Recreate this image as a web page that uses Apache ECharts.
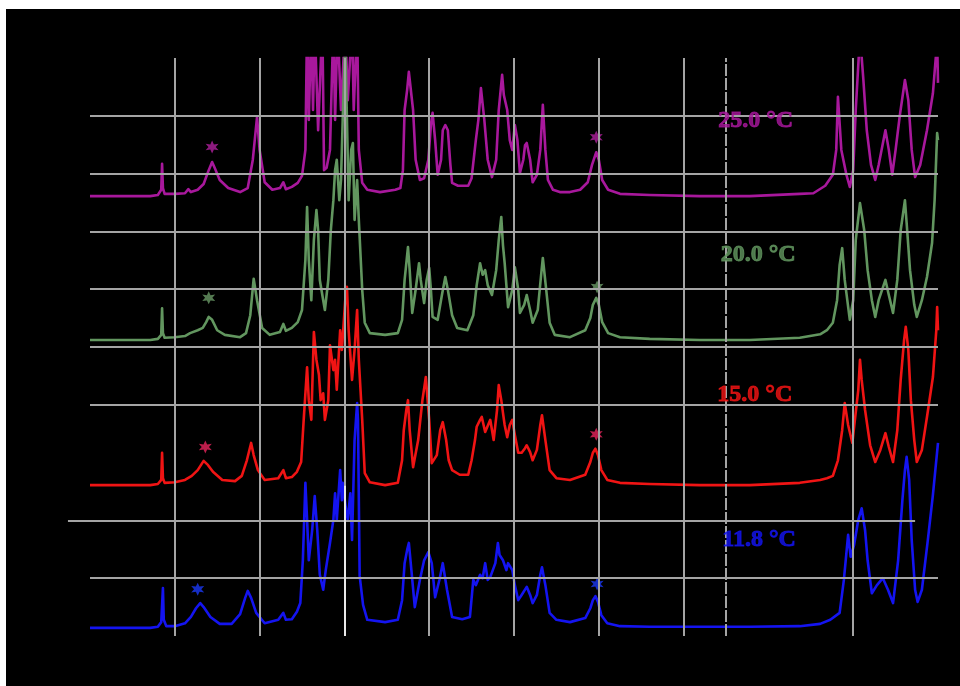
<!DOCTYPE html>
<html><head><meta charset="utf-8">
<script src="https://cdn.jsdelivr.net/npm/echarts@6/dist/echarts.min.js"></script>
<style>
html,body{margin:0;padding:0;background:#fff;width:960px;height:686px;overflow:hidden}
#c{position:absolute;left:6px;top:9px;width:954px;height:677px;background:#000}
</style></head><body><div id="c"></div>
<script>
// Spectra: [shift, intensity(offset stacked)] pairs
const spec25 = [[0,7.61],[0.35,7.61],[0.71,7.61],[0.80,7.63],[0.84,7.72],[0.85,8.17],[0.86,7.75],[0.88,7.65],[1.00,7.65],[1.12,7.66],[1.16,7.73],[1.19,7.68],[1.27,7.72],[1.34,7.82],[1.40,8.06],[1.44,8.20],[1.47,8.10],[1.53,7.89],[1.63,7.75],[1.77,7.68],[1.86,7.75],[1.92,8.24],[1.97,8.98],[2.00,8.41],[2.06,7.85],[2.15,7.72],[2.24,7.75],[2.28,7.85],[2.31,7.73],[2.38,7.77],[2.45,7.84],[2.50,7.96],[2.54,8.41],[2.56,10.6],[2.58,8.93],[2.61,10.6],[2.63,9.10],[2.65,10.6],[2.69,8.75],[2.74,10.6],[2.76,8.06],[2.79,8.10],[2.83,8.41],[2.87,10.6],[2.89,8.93],[2.92,10.6],[2.96,9.10],[3.01,10.6],[3.04,9.27],[3.09,10.6],[3.11,9.10],[3.15,10.6],[3.17,8.41],[3.21,7.84],[3.27,7.72],[3.42,7.68],[3.60,7.72],[3.66,7.75],[3.69,8.06],[3.71,9.10],[3.74,9.45],[3.76,9.76],[3.79,9.36],[3.81,9.10],[3.84,8.24],[3.89,7.89],[3.94,7.92],[3.99,8.24],[4.02,8.84],[4.04,9.05],[4.07,8.58],[4.10,7.98],[4.14,8.24],[4.16,8.75],[4.19,8.84],[4.22,8.75],[4.25,8.15],[4.27,7.84],[4.34,7.79],[4.46,7.79],[4.50,7.92],[4.55,8.58],[4.58,8.93],[4.61,9.48],[4.65,8.93],[4.69,8.24],[4.74,7.94],[4.79,8.24],[4.82,9.10],[4.86,9.71],[4.88,9.36],[4.92,9.10],[4.95,8.58],[4.98,8.41],[5.01,8.84],[5.04,8.58],[5.07,8.01],[5.11,8.24],[5.13,8.49],[5.15,8.53],[5.19,8.24],[5.22,7.85],[5.27,7.98],[5.31,8.41],[5.34,9.19],[5.37,8.41],[5.40,7.89],[5.46,7.72],[5.54,7.68],[5.66,7.68],[5.78,7.72],[5.87,7.85],[5.92,8.15],[5.97,8.37],[6.00,8.24],[6.04,7.89],[6.11,7.72],[6.25,7.65],[6.60,7.63],[7.19,7.61],[7.78,7.61],[8.37,7.65],[8.53,7.66],[8.67,7.79],[8.76,7.98],[8.80,8.41],[8.82,9.33],[8.86,8.41],[8.92,7.98],[8.96,7.77],[9.00,8.06],[9.03,9.10],[9.08,10.4],[9.12,9.62],[9.16,8.75],[9.21,8.15],[9.26,7.89],[9.30,8.15],[9.38,8.75],[9.42,8.41],[9.46,7.98],[9.50,8.41],[9.55,9.01],[9.61,9.62],[9.65,9.27],[9.69,8.41],[9.73,7.94],[9.79,8.15],[9.87,8.75],[9.94,9.39],[9.99,10.3],[10.0,9.57]];

const spec20 = [[0,5.12],[0.71,5.12],[0.80,5.14],[0.84,5.21],[0.85,5.67],[0.86,5.24],[0.88,5.16],[1.00,5.17],[1.12,5.19],[1.18,5.24],[1.27,5.29],[1.33,5.33],[1.37,5.43],[1.40,5.52],[1.44,5.47],[1.50,5.29],[1.59,5.21],[1.77,5.17],[1.84,5.24],[1.89,5.55],[1.93,6.18],[1.97,5.81],[2.03,5.33],[2.12,5.21],[2.24,5.26],[2.28,5.40],[2.31,5.28],[2.38,5.33],[2.45,5.43],[2.50,5.64],[2.54,6.51],[2.56,7.42],[2.58,6.51],[2.61,5.81],[2.64,6.85],[2.67,7.37],[2.69,7.02],[2.71,6.16],[2.75,5.81],[2.77,5.64],[2.81,6.16],[2.84,7.02],[2.87,7.54],[2.89,8.06],[2.91,8.24],[2.94,7.54],[2.96,7.89],[2.98,8.93],[3.01,10.3],[3.03,8.93],[3.05,7.54],[3.08,8.41],[3.10,8.53],[3.12,7.20],[3.15,7.89],[3.17,7.20],[3.21,5.99],[3.24,5.42],[3.30,5.24],[3.48,5.21],[3.63,5.24],[3.68,5.47],[3.71,6.16],[3.75,6.73],[3.77,6.33],[3.80,5.59],[3.84,5.99],[3.88,6.45],[3.90,6.16],[3.94,5.76],[3.97,6.16],[4.00,6.37],[4.02,5.99],[4.04,5.52],[4.10,5.47],[4.15,5.90],[4.19,6.21],[4.22,5.99],[4.27,5.55],[4.33,5.33],[4.45,5.29],[4.52,5.55],[4.56,6.07],[4.60,6.45],[4.63,6.25],[4.66,6.33],[4.69,6.07],[4.74,5.90],[4.79,6.33],[4.82,6.85],[4.85,7.25],[4.87,6.76],[4.89,6.45],[4.93,5.69],[4.98,5.99],[5.01,6.38],[5.05,5.99],[5.07,5.59],[5.12,5.73],[5.15,5.90],[5.19,5.64],[5.22,5.42],[5.28,5.64],[5.32,6.25],[5.34,6.54],[5.38,5.99],[5.42,5.42],[5.48,5.21],[5.66,5.17],[5.84,5.29],[5.90,5.50],[5.93,5.73],[5.97,5.85],[6.00,5.73],[6.04,5.43],[6.11,5.24],[6.25,5.17],[6.60,5.14],[7.19,5.12],[7.78,5.12],[8.37,5.16],[8.61,5.22],[8.69,5.29],[8.76,5.42],[8.81,5.81],[8.84,6.42],[8.87,6.71],[8.90,6.16],[8.96,5.47],[9.00,5.81],[9.03,6.85],[9.08,7.49],[9.13,7.02],[9.17,6.33],[9.22,5.81],[9.26,5.52],[9.30,5.81],[9.38,6.16],[9.42,5.90],[9.47,5.59],[9.52,6.16],[9.56,7.02],[9.61,7.54],[9.63,7.15],[9.67,6.33],[9.72,5.73],[9.75,5.52],[9.81,5.81],[9.87,6.21],[9.93,6.80],[9.96,7.54],[9.99,8.70],[10.0,8.58]];

const spec15 = [[0,2.61],[0.71,2.61],[0.80,2.63],[0.84,2.70],[0.85,3.17],[0.86,2.73],[0.88,2.65],[1.00,2.66],[1.12,2.70],[1.20,2.77],[1.27,2.87],[1.34,3.03],[1.39,2.96],[1.45,2.84],[1.56,2.70],[1.71,2.68],[1.79,2.77],[1.85,3.04],[1.90,3.34],[1.93,3.13],[1.98,2.87],[2.06,2.70],[2.22,2.73],[2.28,2.87],[2.31,2.73],[2.38,2.75],[2.44,2.84],[2.49,3.01],[2.52,3.74],[2.56,4.65],[2.58,4.08],[2.61,3.74],[2.64,5.26],[2.67,4.78],[2.70,4.52],[2.72,4.08],[2.75,4.20],[2.77,3.74],[2.81,4.08],[2.83,5.03],[2.87,4.60],[2.89,4.78],[2.91,4.26],[2.95,5.29],[2.97,4.95],[3.01,5.81],[3.03,6.04],[3.05,5.29],[3.09,4.43],[3.12,4.95],[3.15,5.64],[3.17,4.78],[3.21,3.74],[3.24,2.82],[3.30,2.66],[3.48,2.61],[3.63,2.65],[3.68,3.04],[3.70,3.56],[3.73,3.91],[3.75,4.08],[3.77,3.56],[3.81,2.92],[3.87,3.39],[3.92,4.08],[3.96,4.48],[4.00,3.74],[4.03,2.99],[4.09,3.13],[4.13,3.56],[4.16,3.70],[4.20,3.39],[4.23,3.04],[4.27,2.87],[4.36,2.79],[4.46,2.79],[4.50,3.04],[4.54,3.39],[4.56,3.62],[4.60,3.74],[4.62,3.79],[4.66,3.53],[4.68,3.56],[4.72,3.74],[4.76,3.39],[4.80,3.91],[4.82,4.34],[4.85,4.08],[4.87,3.86],[4.89,3.65],[4.92,3.44],[4.95,3.65],[4.98,3.74],[5.01,3.48],[5.05,3.17],[5.09,3.17],[5.13,3.25],[5.15,3.30],[5.19,3.18],[5.22,3.04],[5.27,3.22],[5.31,3.65],[5.33,3.82],[5.37,3.39],[5.42,2.87],[5.50,2.73],[5.66,2.70],[5.84,2.79],[5.90,3.01],[5.93,3.17],[5.96,3.24],[5.99,3.13],[6.03,2.87],[6.10,2.70],[6.25,2.65],[6.60,2.63],[7.19,2.61],[7.78,2.61],[8.37,2.65],[8.61,2.70],[8.69,2.73],[8.76,2.77],[8.82,3.04],[8.87,3.56],[8.90,4.03],[8.94,3.65],[8.99,3.34],[9.02,3.74],[9.06,4.26],[9.08,4.78],[9.10,4.43],[9.14,3.91],[9.20,3.30],[9.26,3.01],[9.32,3.22],[9.38,3.51],[9.42,3.27],[9.47,3.01],[9.52,3.56],[9.56,4.43],[9.60,5.12],[9.62,5.35],[9.65,4.95],[9.68,4.08],[9.72,3.39],[9.75,3.01],[9.81,3.22],[9.87,3.79],[9.94,4.48],[9.98,5.29],[9.99,5.69],[10.0,5.29]];

const spec118 = [[0,0.14],[0.71,0.14],[0.80,0.16],[0.84,0.24],[0.86,0.83],[0.87,0.28],[0.90,0.17],[1.00,0.17],[1.12,0.22],[1.19,0.33],[1.25,0.48],[1.30,0.57],[1.34,0.50],[1.42,0.33],[1.53,0.21],[1.67,0.21],[1.77,0.38],[1.83,0.66],[1.86,0.78],[1.90,0.66],[1.96,0.40],[2.06,0.22],[2.22,0.28],[2.28,0.40],[2.31,0.28],[2.38,0.29],[2.44,0.42],[2.48,0.57],[2.51,1.31],[2.54,2.65],[2.56,2.01],[2.58,1.31],[2.62,1.83],[2.65,2.42],[2.68,1.83],[2.71,1.06],[2.75,0.80],[2.78,1.14],[2.83,1.61],[2.87,2.01],[2.89,2.47],[2.91,2.01],[2.95,2.87],[2.97,2.35],[2.98,2.65],[3.02,2.18],[3.04,2.01],[3.07,2.47],[3.09,1.66],[3.12,3.39],[3.15,4.03],[3.16,3.74],[3.18,1.04],[3.22,0.54],[3.27,0.28],[3.48,0.24],[3.63,0.28],[3.68,0.62],[3.71,1.26],[3.74,1.49],[3.76,1.61],[3.79,1.14],[3.83,0.50],[3.89,0.97],[3.94,1.31],[3.99,1.45],[4.03,1.26],[4.07,0.67],[4.12,0.97],[4.16,1.26],[4.21,0.80],[4.27,0.33],[4.39,0.29],[4.48,0.33],[4.52,0.97],[4.55,0.88],[4.60,1.06],[4.63,1.00],[4.66,1.26],[4.69,0.97],[4.72,1.02],[4.75,1.14],[4.78,1.26],[4.81,1.61],[4.83,1.40],[4.87,1.31],[4.91,1.14],[4.93,1.26],[4.98,1.14],[5.01,0.88],[5.05,0.62],[5.09,0.71],[5.15,0.85],[5.19,0.71],[5.22,0.57],[5.27,0.71],[5.31,1.06],[5.33,1.19],[5.37,0.88],[5.42,0.40],[5.50,0.28],[5.66,0.24],[5.84,0.31],[5.90,0.48],[5.93,0.62],[5.96,0.69],[5.99,0.59],[6.03,0.36],[6.10,0.22],[6.25,0.17],[6.60,0.16],[7.19,0.16],[7.78,0.16],[8.37,0.17],[8.61,0.21],[8.73,0.28],[8.84,0.40],[8.89,0.97],[8.94,1.75],[8.97,1.37],[9.01,1.57],[9.06,2.01],[9.10,2.21],[9.14,1.83],[9.17,1.31],[9.22,0.74],[9.28,0.88],[9.35,1.00],[9.41,0.80],[9.47,0.57],[9.53,1.31],[9.58,2.35],[9.61,2.87],[9.63,3.10],[9.66,2.70],[9.69,1.66],[9.73,0.80],[9.76,0.59],[9.81,0.80],[9.88,1.66],[9.94,2.44],[10.0,3.34]];

const seriesNames = ['25.0 °C','20.0 °C','15.0 °C','11.8 °C'];
const seriesColors = ['#a8189c','#62965f','#f01414','#1414f0'];
const starColors = ['#b0209e','#6a9a66','#e8245c','#1a38f5'];
const starPoints = [
  [[1.44,8.46],[5.97,8.63]],
  [[1.40,5.85],[5.98,6.04]],
  [[1.36,3.27],[5.97,3.49]],
  [[1.27,0.81],[5.98,0.90]]
];
const labelPos = [[7.85,8.91],[7.88,6.59],[7.84,4.17],[7.89,1.66]];
const gridX = [1,2,3,4,5,6,7,7.5,9];
const gridY = [1,2,4,5,6,7,8,9];

const specs = [spec25, spec20, spec15, spec118];
const STAR = 'path://M50,0 L62,30 L93,25 L74,50 L93,75 L62,70 L50,100 L38,70 L7,75 L26,50 L7,25 L38,30 Z';

const series = [];
specs.forEach((d,i)=>{
  series.push({
    type:'line', name:seriesNames[i], data:d, showSymbol:false, symbol:'none',
    lineStyle:{color:seriesColors[i], width:2.6, join:'round'}, z:3, animation:false, clip:true
  });
  series.push({
    type:'scatter', data:starPoints[i], symbol:STAR, symbolSize:13,
    itemStyle:{color:starColors[i]}, z:4, animation:false
  });
});
series.push({
  type:'scatter', symbolSize:0, z:6, animation:false,
  data: labelPos.map((p,i)=>({value:[p[0],p[1]], label:{show:true, formatter:seriesNames[i], color:seriesColors[i],
     fontFamily:'Liberation Serif', fontWeight:'bold', fontSize:24, position:'inside',
     textBorderColor:seriesColors[i], textBorderWidth:1}}))
});
const gl = {color:'#a4a4a4', width:2, type:'solid'};
const mlData = [];
gridY.forEach(y=>{
  if (y===2) mlData.push([{coord:[-0.26,y]},{coord:[9.73,y]}]);
  else mlData.push([{coord:[0,y]},{coord:[10,y]}]);
});
gridX.forEach(x=>{
  mlData.push([{coord:[x,0]},{coord:[x,10], lineStyle: x===7.5?{color:'#a4a4a4',width:2,type:[12,2]}:undefined}]);
});
mlData.push([{coord:[3,0]},{coord:[3,2.6], lineStyle:{color:'#e8e8e8',width:2}}]);
series.push({
  type:'line', data:[], z:5, animation:false,
  markLine:{silent:true, symbol:['none','none'], label:{show:false}, lineStyle:gl, animation:false, data:mlData}
});

const chart = echarts.init(document.getElementById('c'), null, {renderer:'canvas'});
chart.setOption({
  backgroundColor:'#000',
  animation:false,
  grid:{left:41.6, top:49, width:890.4, height:578},
  xAxis:{type:'value', min:-0.5, max:10, show:false, splitLine:{show:false}},
  yAxis:{type:'value', min:0, max:10, show:false, splitLine:{show:false}},
  series
});
</script></body></html>
